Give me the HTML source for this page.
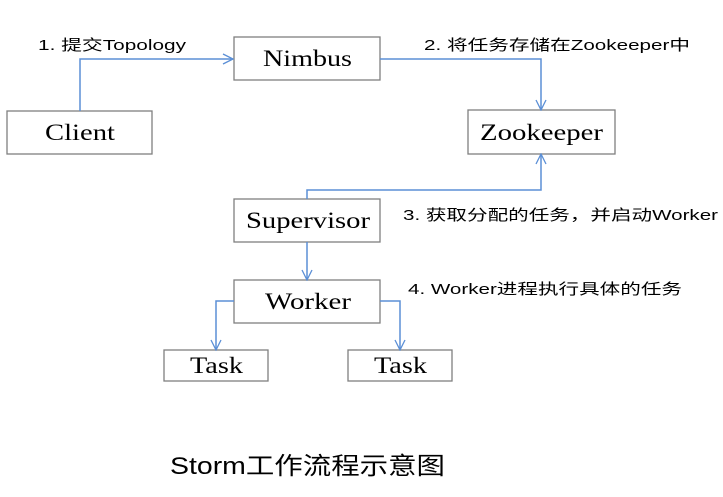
<!DOCTYPE html>
<html><head><meta charset="utf-8"><style>
body{margin:0;background:#fff;width:723px;height:492px;overflow:hidden}
</style></head><body>
<svg width="723" height="492" xmlns="http://www.w3.org/2000/svg">
<defs><marker id="a" markerWidth="12" markerHeight="12" refX="11" refY="6" orient="auto" markerUnits="userSpaceOnUse"><path d="M1,1 L11,6 L1,11" fill="none" stroke="#5b8fd6" stroke-width="1.3"/></marker></defs>
<g fill="#fff" stroke="#7f7f7f" stroke-width="1.3">
<rect x="7" y="111" width="145" height="43"/>
<rect x="234" y="37" width="146" height="43"/>
<rect x="468" y="110" width="147" height="44"/>
<rect x="234" y="199" width="146" height="43"/>
<rect x="234" y="280" width="146" height="43"/>
<rect x="164" y="350" width="104" height="31"/>
<rect x="348" y="350" width="104" height="31"/>
</g>
<g fill="none" stroke="#5b8fd6" stroke-width="1.5">
<path d="M80,111 V59 H233" marker-end="url(#a)"/>
<path d="M380,59 H541 V110" marker-end="url(#a)"/>
<path d="M307,199 V190 H541 V154" marker-end="url(#a)"/>
<path d="M307,242 V280" marker-end="url(#a)"/>
<path d="M234,301 H216 V350" marker-end="url(#a)"/>
<path d="M380,301 H400 V350" marker-end="url(#a)"/>
</g>
<g font-family="Liberation Serif, serif" font-size="23" fill="#000" lengthAdjust="spacingAndGlyphs">
<text x="45" y="140" textLength="70" lengthAdjust="spacingAndGlyphs">Client</text>
<text x="263" y="66" textLength="89" lengthAdjust="spacingAndGlyphs">Nimbus</text>
<text x="480" y="140" textLength="123" lengthAdjust="spacingAndGlyphs">Zookeeper</text>
<text x="246" y="228" textLength="124" lengthAdjust="spacingAndGlyphs">Supervisor</text>
<text x="265" y="309" textLength="86" lengthAdjust="spacingAndGlyphs">Worker</text>
<text x="190" y="373" textLength="53" lengthAdjust="spacingAndGlyphs">Task</text>
<text x="374" y="373" textLength="53" lengthAdjust="spacingAndGlyphs">Task</text>
</g>
<g font-family="Liberation Sans, 'Noto Sans CJK SC', sans-serif" font-size="15" fill="#000">
<text x="38" y="50" textLength="148" lengthAdjust="spacingAndGlyphs">1. 提交Topology</text>
<text x="424" y="50" textLength="266" lengthAdjust="spacingAndGlyphs">2. 将任务存储在Zookeeper中</text>
<text x="403" y="220" textLength="315" lengthAdjust="spacingAndGlyphs">3. 获取分配的任务，并启动Worker</text>
<text x="408" y="294" textLength="274" lengthAdjust="spacingAndGlyphs">4. Worker进程执行具体的任务</text>
<text x="170" y="474" font-size="24" textLength="275" lengthAdjust="spacingAndGlyphs">Storm工作流程示意图</text>
</g>
</svg>
</body></html>
